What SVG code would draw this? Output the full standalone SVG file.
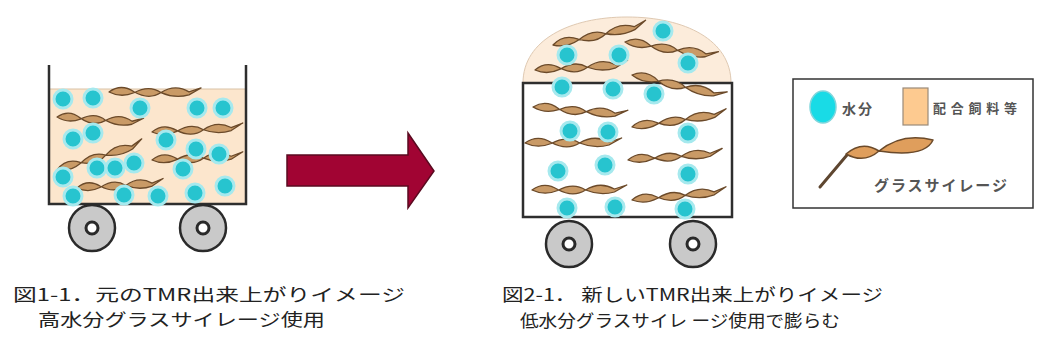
<svg xmlns="http://www.w3.org/2000/svg" width="1037" height="349" viewBox="0 0 1037 349">
  <style>
    .wall{fill:none;stroke:#2e2e2e;stroke-width:2.5}
    .drop{fill:#27c4cf;stroke:#a6e9ee;stroke-width:3}
    .wheel{fill:#c9c9c9;stroke:#2a2a2a;stroke-width:2.5}
    .hub{fill:#fff;stroke:#2a2a2a;stroke-width:3}
    .cap{font-family:"Noto Sans CJK JP","Liberation Sans",sans-serif;font-size:17px;fill:#222}
    .leg{font-family:"Noto Sans CJK JP","Liberation Sans",sans-serif;font-weight:bold;fill:#555}
  </style>
  <defs>
    <!-- one twisted silage strand, 92 units long, laid along the x axis -->
    <path id="strand" d="M0,0 Q12,-9 25,-0.5 Q40,8 52,0 Q66,-9 80,-1 L92,-5 L80,2 Q66,6 52,0 Q40,-8 25,0.5 Q12,6 0,0 Z" fill="#c99a66" stroke="#6b4a2a" stroke-width="1.3" stroke-linejoin="round"/>
    <g id="wheelset">
      <circle class="wheel" r="23"/>
      <circle class="hub" r="6"/>
    </g>
  </defs>

  <!-- cart 1: original TMR -->
  <g id="cart-original">
    <rect x="49" y="89" width="197" height="115" fill="#fce6cd"/>
    <line x1="49" y1="89" x2="246" y2="89" stroke="#d9c2a6" stroke-width="1"/>
    <path class="wall" d="M49,65 V204 H246 V65"/>
    <use href="#strand" transform="translate(109,92) rotate(0.6)"/>
    <use href="#strand" transform="translate(57,117) rotate(4) scale(0.94,1)"/>
    <use href="#strand" transform="translate(152,132) rotate(-2.5) scale(0.99,1)"/>
    <use href="#strand" transform="translate(57,170) rotate(-17) scale(0.98,1)"/>
    <use href="#strand" transform="translate(152,160) rotate(-2) scale(0.99,1)"/>
    <use href="#strand" transform="translate(77,188) rotate(-3) scale(0.94,1)"/>
    <circle class="drop" cx="63" cy="99" r="9"/>
    <circle class="drop" cx="93" cy="98" r="9"/>
    <circle class="drop" cx="140" cy="108" r="9"/>
    <circle class="drop" cx="197" cy="108" r="9"/>
    <circle class="drop" cx="223" cy="108" r="9"/>
    <circle class="drop" cx="93" cy="133" r="9"/>
    <circle class="drop" cx="73" cy="139" r="9"/>
    <circle class="drop" cx="166" cy="140" r="9"/>
    <circle class="drop" cx="196" cy="149" r="9"/>
    <circle class="drop" cx="219" cy="154" r="9"/>
    <circle class="drop" cx="134" cy="163" r="9"/>
    <circle class="drop" cx="97" cy="168" r="9"/>
    <circle class="drop" cx="115" cy="168" r="9"/>
    <circle class="drop" cx="183" cy="169" r="9"/>
    <circle class="drop" cx="63" cy="177" r="9"/>
    <circle class="drop" cx="225" cy="186" r="9"/>
    <circle class="drop" cx="73" cy="196" r="9"/>
    <circle class="drop" cx="124" cy="195" r="9"/>
    <circle class="drop" cx="158" cy="196" r="9"/>
    <circle class="drop" cx="195" cy="193" r="9"/>
    <use href="#wheelset" x="92" y="228"/>
    <use href="#wheelset" x="203" y="228"/>
  </g>

  <!-- transition arrow -->
  <g id="connectors">
    <path id="arrow" d="M287,155 L408,155 L408,133 L434,171 L408,208 L408,186 L287,186 Z" fill="#a10433" stroke="#5a0a20" stroke-width="1.5" stroke-linejoin="miter"/>
  </g>

  <!-- cart 2: new TMR, heaped above the rim -->
  <g id="cart-new">
    <path d="M523,83 C523,40 570,17 627,17 C685,17 731,40 731,83 Z" fill="#fcecdb" stroke="#dfc9b2" stroke-width="1"/>
    <rect class="wall" x="523" y="83" width="209" height="134" fill="#fbe3c8"/>
    <use href="#strand" transform="translate(553,45) rotate(-12) scale(1.04,1)"/>
    <use href="#strand" transform="translate(625,42) rotate(9) scale(1.02,1)"/>
    <use href="#strand" transform="translate(535,70) rotate(-3) scale(1.01,1)"/>
    <use href="#strand" transform="translate(632,75) rotate(13) scale(1.05,1)"/>
    <use href="#strand" transform="translate(533,107) rotate(5) scale(1.03,1)"/>
    <use href="#strand" transform="translate(632,127) rotate(-8) scale(1.04,1)"/>
    <use href="#strand" transform="translate(525,143) scale(1.05,1)"/>
    <use href="#strand" transform="translate(628,160) rotate(-4) scale(1.03,1)"/>
    <use href="#strand" transform="translate(532,190) scale(1.03,1)"/>
    <use href="#strand" transform="translate(632,200) rotate(-5) scale(1.03,1)"/>
    <circle class="drop" cx="663" cy="31" r="9"/>
    <circle class="drop" cx="567" cy="55" r="9"/>
    <circle class="drop" cx="619" cy="55" r="9"/>
    <circle class="drop" cx="688" cy="63" r="9"/>
    <circle class="drop" cx="562" cy="87" r="9"/>
    <circle class="drop" cx="613" cy="89" r="9"/>
    <circle class="drop" cx="654" cy="94" r="9"/>
    <circle class="drop" cx="570" cy="131" r="9"/>
    <circle class="drop" cx="608" cy="132" r="9"/>
    <circle class="drop" cx="688" cy="133" r="9"/>
    <circle class="drop" cx="558" cy="171" r="9"/>
    <circle class="drop" cx="605" cy="165" r="9"/>
    <circle class="drop" cx="688" cy="174" r="9"/>
    <circle class="drop" cx="567" cy="208" r="9"/>
    <circle class="drop" cx="615" cy="207" r="9"/>
    <circle class="drop" cx="685" cy="209" r="9"/>
    <use href="#wheelset" x="569" y="244"/>
    <use href="#wheelset" x="693" y="244"/>
  </g>

  <!-- legend -->
  <g id="legend">
    <rect x="793" y="79" width="240" height="129" fill="#fff" stroke="#333" stroke-width="1.5"/>
    <ellipse cx="823" cy="107" rx="13" ry="16" fill="#19dbe6" stroke="#7fd6dc" stroke-width="1.5"/>
    <text class="leg" x="842" y="114" font-size="14" textLength="30">水分</text>
    <rect x="903" y="88" width="25" height="37" fill="#fdca90" stroke="#9a8a7a" stroke-width="1.2"/>
    <text class="leg" x="933" y="113" font-size="13" textLength="84">配合飼料等</text>
    <path d="M820,187 L847,155" stroke="#5e4630" stroke-width="3" stroke-linecap="round"/>
    <path d="M846,154 Q862,140 879,151 Q902,132 933,140 Q925,158 879,151 Q864,164 846,154 Z" fill="#df9e5c" stroke="#6b4a2a" stroke-width="1.5" stroke-linejoin="round"/>
    <text class="leg" x="874" y="191" font-size="15" textLength="133">グラスサイレージ</text>
  </g>

  <!-- captions -->
  <g id="captions">
    <text class="cap" x="13" y="301" textLength="392" lengthAdjust="spacingAndGlyphs">図1-1．元のTMR出来上がりイメージ</text>
    <text class="cap" x="38" y="326" textLength="287" lengthAdjust="spacingAndGlyphs">高水分グラスサイレージ使用</text>
    <text class="cap" x="502" y="301" textLength="381" lengthAdjust="spacingAndGlyphs">図2-1． 新しいTMR出来上がりイメージ</text>
    <text class="cap" x="520" y="327" textLength="320" lengthAdjust="spacingAndGlyphs">低水分グラスサイレ ージ使用で膨らむ</text>
  </g>
</svg>
